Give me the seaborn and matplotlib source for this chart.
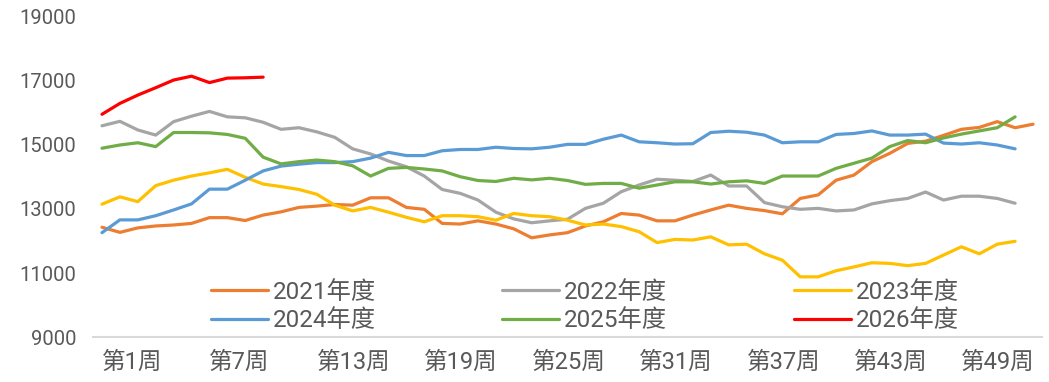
import matplotlib
matplotlib.use('Agg')
import matplotlib.pyplot as plt
import seaborn as sns
import pandas as pd

# weekly values
y2021 = [12430, 12270, 12410, 12470, 12500, 12550, 12730, 12730, 12640, 12810,
         12910, 13050, 13090, 13140, 13120, 13350, 13350, 13050, 12990, 12550,
         12530, 12630, 12530, 12380, 12100, 12190, 12260, 12470, 12600, 12860,
         12810, 12630, 12630, 12810, 12970, 13120, 13020, 12950, 12850, 13330,
         13440, 13900, 14060, 14480, 14740, 15050, 15120, 15300, 15490, 15550,
         15730, 15540, 15650]
y2022 = [15600, 15740, 15470, 15310, 15730, 15900, 16050, 15880, 15850, 15710,
         15490, 15540, 15410, 15240, 14880, 14720, 14500, 14320, 14030, 13610,
         13490, 13280, 12900, 12690, 12570, 12630, 12680, 13020, 13180, 13540,
         13750, 13930, 13900, 13860, 14060, 13720, 13720, 13200, 13070, 12990,
         13020, 12940, 12970, 13160, 13260, 13330, 13530, 13280, 13400, 13400,
         13330, 13180]
y2023 = [13150, 13380, 13230, 13730, 13900, 14030, 14130, 14240, 13990, 13780,
         13700, 13610, 13460, 13120, 12940, 13050, 12900, 12740, 12600, 12790,
         12790, 12760, 12650, 12860, 12790, 12760, 12650, 12500, 12530, 12450,
         12290, 11950, 12050, 12030, 12130, 11880, 11900, 11600, 11400, 10880,
         10880, 11070, 11190, 11320, 11300, 11230, 11300, 11560, 11820, 11600,
         11900, 11990]
y2024 = [12260, 12660, 12660, 12790, 12970, 13160, 13620, 13620, 13900, 14190,
         14340, 14400, 14450, 14450, 14480, 14590, 14770, 14670, 14670, 14820,
         14860, 14860, 14930, 14890, 14880, 14930, 15020, 15020, 15180, 15310,
         15100, 15070, 15030, 15040, 15390, 15430, 15400, 15310, 15070, 15100,
         15100, 15330, 15360, 15440, 15310, 15310, 15340, 15060, 15030, 15070,
         15000, 14880]
y2025 = [14900, 15000, 15070, 14950, 15390, 15390, 15380, 15330, 15210, 14620,
         14410, 14480, 14530, 14480, 14350, 14030, 14270, 14300, 14250, 14190,
         14010, 13890, 13860, 13960, 13910, 13960, 13890, 13770, 13800, 13800,
         13650, 13750, 13850, 13850, 13780, 13850, 13880, 13800, 14030, 14030,
         14030, 14270, 14430, 14590, 14950, 15140, 15070, 15220, 15340, 15440,
         15540, 15880]
y2026 = [15960, 16300, 16560, 16790, 17030, 17150, 16950, 17090, 17100, 17120]

series_names = ['2021年度', '2022年度', '2023年度', '2024年度', '2025年度', '2026年度']
series_values = [y2021, y2022, y2023, y2024, y2025, y2026]
colors = ['#ED7D31', '#A5A5A5', '#FFC000', '#5B9BD5', '#70AD47', '#FF0000']

weeks = list(range(1, 54))
week_labels = [f'第{w}周' for w in weeks]
yticks = [9000, 11000, 13000, 15000, 17000, 19000]

sns.set_style('white')
plt.rcParams['font.family'] = ['Roboto', 'Noto Sans CJK SC', 'DejaVu Sans']

fig = plt.figure(figsize=(10.49, 3.82), dpi=100)
ax = fig.add_axes([0.0887, 0.1178, 0.9046, 0.8377])

for name, vals, c in zip(series_names, series_values, colors):
    df = pd.DataFrame({'week': weeks[:len(vals)], 'value': vals})
    sns.lineplot(data=df, x='week', y='value', color=c, linewidth=2.3,
                 label=name, ax=ax)

ax.set_xlim(0.5, 53.5)
ax.set_ylim(9000, 19000)
ax.set_yticks(yticks)
ax.set_yticklabels([str(v) for v in yticks])
ax.set_xticks(weeks[::6])
ax.set_xticklabels(week_labels[::6], ha='left')
ax.set_xlabel('')
ax.set_ylabel('')
ax.tick_params(axis='both', length=0, labelcolor='#595959')
ax.tick_params(axis='y', pad=12, labelsize=14.5)
ax.tick_params(axis='x', pad=10, labelsize=17)

for s in ['top', 'right', 'left']:
    ax.spines[s].set_visible(False)
ax.spines['bottom'].set_color('#D9D9D9')
ax.spines['bottom'].set_linewidth(1.5)

# legend rows: 2021 2022 2023 / 2024 2025 2026
handles, labels = ax.get_legend_handles_labels()
order = [0, 3, 1, 4, 2, 5]
leg = ax.legend([handles[i] for i in order], [labels[i] for i in order],
                ncol=3, loc='center', bbox_to_anchor=(0.518, 0.095),
                frameon=False, fontsize=17.5, handlelength=2.35,
                handletextpad=0.2, columnspacing=5.2, labelspacing=0.22,
                borderpad=0)
for t in leg.get_texts():
    t.set_color('#595959')

fig.savefig('out.png', dpi=100)
